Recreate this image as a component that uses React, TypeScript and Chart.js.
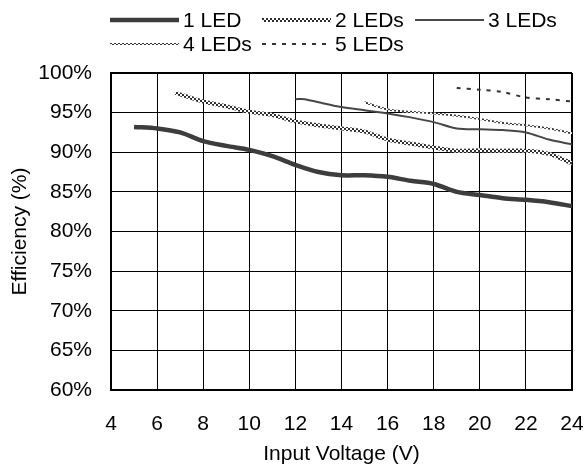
import React, { useEffect, useRef } from "react";
import { Chart, registerables } from "chart.js";

Chart.register(...registerables);

// Efficiency curves vs. input voltage, one series per LED string length
const seriesLabels = ["1 LED", "2 LEDs", "3 LEDs", "4 LEDs", "5 LEDs"];

const led1Voltage = [5, 6, 7, 8, 9, 10, 11, 12, 13, 14, 15, 16, 17, 18, 19, 20, 21, 22, 23, 24];
const led1Efficiency = [93.2, 93.0, 92.5, 91.4, 90.8, 90.3, 89.5, 88.4, 87.5, 87.1, 87.1, 86.9, 86.4, 86.0, 85.0, 84.6, 84.2, 84.0, 83.7, 83.2];

const led2Voltage = [6.8, 8, 9, 10, 11, 12, 13, 14, 15, 16, 17, 18, 19, 20, 21, 22, 23, 24];
const led2Efficiency = [97.5, 96.4, 95.8, 95.1, 94.7, 93.9, 93.4, 93.0, 92.6, 91.6, 91.1, 90.6, 90.2, 90.25, 90.2, 90.2, 89.8, 88.6];

const led3Voltage = [12, 12.4, 13, 14, 15, 16, 17, 18, 19, 20, 21, 22, 23, 24];
const led3Efficiency = [96.7, 96.7, 96.3, 95.7, 95.3, 94.9, 94.4, 93.8, 93.0, 92.9, 92.8, 92.5, 91.6, 91.0];

const led4Voltage = [15, 16, 17, 18, 19, 20, 21, 22, 23, 24];
const led4Efficiency = [96.3, 95.4, 95.1, 94.9, 94.6, 94.2, 93.7, 93.4, 93.0, 92.4];

const led5Voltage = [19, 20, 21, 22, 23, 24];
const led5Efficiency = [98.1, 97.9, 97.6, 96.9, 96.7, 96.4];

const voltageMin = 4;
const voltageMax = 24;
const voltageStep = 2;
const efficiencyMin = 60;
const efficiencyMax = 100;
const efficiencyStep = 5;

const FONT = "'Liberation Sans', Arial, sans-serif";
const FONT_SIZE = 21;

function toPoints(xs: number[], ys: number[]) {
  return xs.map((x, i) => ({ x, y: ys[i] }));
}

function checkerPattern(ctx: CanvasRenderingContext2D, cell: number, dark: string, light: string) {
  const c = document.createElement("canvas");
  c.width = cell * 2;
  c.height = cell * 2;
  const g = c.getContext("2d")!;
  g.fillStyle = light;
  g.fillRect(0, 0, cell * 2, cell * 2);
  g.fillStyle = dark;
  g.fillRect(0, 0, cell, cell);
  g.fillRect(cell, cell, cell, cell);
  return ctx.createPattern(c, "repeat")!;
}

// Two-row legend laid out on a fixed column grid above the plot
const legendPlugin = {
  id: "gridLegend",
  afterDraw(chart: any) {
    const ctx: CanvasRenderingContext2D = chart.ctx;
    const cols = [110, 262, 415];
    const rows = [20, 44];
    const lineLen = 69;
    chart.data.datasets.forEach((ds: any, i: number) => {
      const x = cols[i % 3];
      const y = rows[Math.floor(i / 3)];
      ctx.save();
      ctx.strokeStyle = ds.borderColor;
      ctx.lineWidth = ds.borderWidth;
      ctx.setLineDash(ds.borderDash || []);
      ctx.beginPath();
      ctx.moveTo(x, y);
      ctx.lineTo(x + lineLen, y);
      ctx.stroke();
      ctx.setLineDash([]);
      ctx.fillStyle = "#000";
      ctx.font = `${FONT_SIZE}px ${FONT}`;
      ctx.textBaseline = "middle";
      ctx.textAlign = "left";
      ctx.fillText(ds.label, x + lineLen + 4, y + 1);
      ctx.restore();
    });
  },
};

export default function App() {
  const canvasRef = useRef<HTMLCanvasElement | null>(null);

  useEffect(() => {
    const canvas = canvasRef.current!;
    const ctx = canvas.getContext("2d")!;
    const pattern2 = checkerPattern(ctx, 2, "#2e2e2e", "#ffffff");
    const pattern4 = checkerPattern(ctx, 2, "#3a3a3a", "#ffffff");

    const edgeWidth = (c: any, last: number) => (c.index === 0 || c.index === last ? 2 : 1);
    const font = { family: FONT, size: FONT_SIZE };

    const chart = new Chart(canvas, {
      type: "line",
      data: {
        datasets: [
          {
            label: seriesLabels[0],
            data: toPoints(led1Voltage, led1Efficiency),
            borderColor: "#3d3d3d",
            borderWidth: 4.5,
          },
          {
            label: seriesLabels[1],
            data: toPoints(led2Voltage, led2Efficiency),
            borderColor: pattern2 as any,
            borderWidth: 4,
          },
          {
            label: seriesLabels[2],
            data: toPoints(led3Voltage, led3Efficiency),
            borderColor: "#474747",
            borderWidth: 2,
          },
          {
            label: seriesLabels[3],
            data: toPoints(led4Voltage, led4Efficiency),
            borderColor: pattern4 as any,
            borderWidth: 2,
          },
          {
            label: seriesLabels[4],
            data: toPoints(led5Voltage, led5Efficiency),
            borderColor: "#333333",
            borderWidth: 2,
            borderDash: [4, 6],
          },
        ] as any,
      },
      options: {
        animation: false,
        responsive: false,
        layout: { padding: { top: 73, right: 14, bottom: 0, left: 0 } },
        elements: {
          point: { radius: 0 },
          line: { tension: 0.3, fill: false, borderCapStyle: "butt" },
        },
        plugins: {
          legend: { display: false },
          tooltip: { enabled: false },
        },
        scales: {
          x: {
            type: "linear",
            min: voltageMin,
            max: voltageMax,
            afterFit: (scale: any) => {
              scale.height = 80;
            },
            ticks: {
              stepSize: voltageStep,
              padding: 0,
              color: "#000",
              font,
            },
            grid: {
              color: "#000",
              lineWidth: (c: any) => edgeWidth(c, 10),
              drawTicks: true,
              tickLength: 22,
              tickColor: "rgba(0,0,0,0)",
            },
            border: { color: "#000", width: 2 },
            title: {
              display: true,
              text: "Input Voltage (V)",
              color: "#000",
              font,
              padding: { top: 0, bottom: 3 },
            },
          },
          y: {
            type: "linear",
            min: efficiencyMin,
            max: efficiencyMax,
            afterFit: (scale: any) => {
              scale.width = 111;
            },
            ticks: {
              stepSize: efficiencyStep,
              padding: 0,
              color: "#000",
              font,
              callback: (v: any) => `${v}%`,
            },
            grid: {
              color: "#000",
              lineWidth: (c: any) => edgeWidth(c, 8),
              drawTicks: true,
              tickLength: 19,
              tickColor: "rgba(0,0,0,0)",
            },
            border: { color: "#000", width: 2 },
            title: {
              display: true,
              text: "Efficiency (%)",
              color: "#000",
              font,
              padding: { top: 8, bottom: 0 },
            },
          },
        },
      } as any,
      plugins: [legendPlugin],
    });

    return () => chart.destroy();
  }, []);

  return (
    <div style={{ position: "fixed", left: 0, top: 0, width: 586, height: 470, background: "#fff" }}>
      <canvas ref={canvasRef} width={586} height={470} />
    </div>
  );
}
